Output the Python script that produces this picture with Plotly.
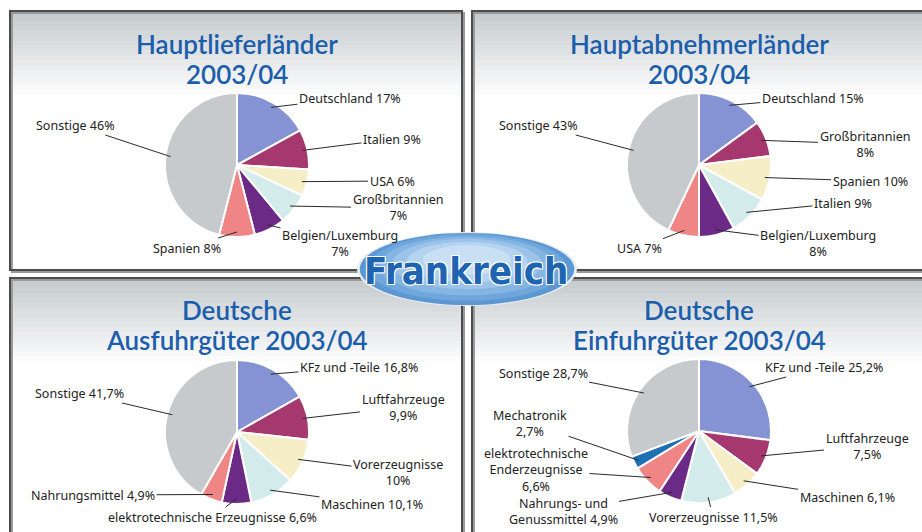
import math
import plotly.graph_objects as go

W, H = 922, 532

# ---------------- data ----------------
tl_labels = ["Deutschland", "Italien", "USA", "Großbritannien", "Belgien/Luxemburg", "Spanien", "Sonstige"]
tl_values = [17, 9, 6, 7, 7, 8, 46]

tr_labels = ["Deutschland", "Großbritannien", "Spanien", "Italien", "Belgien/Luxemburg", "USA", "Sonstige"]
tr_values = [15, 8, 10, 9, 8, 7, 43]

bl_labels = ["KFz und -Teile", "Luftfahrzeuge", "Vorerzeugnisse", "Maschinen",
             "elektrotechnische Erzeugnisse", "Nahrungsmittel", "Sonstige"]
bl_values = [16.8, 9.9, 10.0, 10.1, 6.6, 4.9, 41.7]

br_labels = ["KFz und -Teile", "Luftfahrzeuge", "Maschinen", "Vorerzeugnisse",
             "Nahrungs- und Genussmittel", "elektrotechnische Enderzeugnisse", "Mechatronik", "Sonstige"]
br_values = [25.2, 7.5, 6.1, 11.5, 4.9, 6.6, 2.7, 28.7]

titles = ["Hauptlieferländer<br>2003/04", "Hauptabnehmerländer<br>2003/04",
          "Deutsche<br>Ausfuhrgüter 2003/04", "Deutsche<br>Einfuhrgüter 2003/04"]
logo_text = "Frankreich"

# ---------------- styles / layout ----------------
C_BLUE, C_MAG, C_CREAM, C_CYAN = "#8592d3", "#a5386f", "#f6eec6", "#d4ebeb"
C_PURP, C_PINK, C_GRAY, C_DBLUE = "#6c2a87", "#ef8585", "#c6cacd", "#1f6fb5"
colors7 = [C_BLUE, C_MAG, C_CREAM, C_CYAN, C_PURP, C_PINK, C_GRAY]
colors8 = [C_BLUE, C_MAG, C_CREAM, C_CYAN, C_PURP, C_PINK, C_DBLUE, C_GRAY]
TITLE_BLUE = "#1b5eab"
LABEL_FONT = dict(family="Noto Sans", size=12.5, color="#222222")

R = 72
panels = [
    dict(labels=tl_labels, values=tl_values, colors=colors7, center=(237, 165),
         box=(10, 11, 462, 270), title_y=(44, 74),
         breaks={"Großbritannien": "<br>", "Belgien/Luxemburg": "<br>"},
         pos=[(350, 98), (392, 139), (392, 181), (398, 208), (340, 243), (187, 248), (75, 125)]),
    dict(labels=tr_labels, values=tr_values, colors=colors7, center=(699, 165),
         box=(472, 11, 935, 270), title_y=(44, 74),
         breaks={"Großbritannien": "<br>", "Belgien/Luxemburg": "<br>"},
         pos=[(813, 98), (865, 144), (870, 181), (843, 203), (818, 243), (639, 248), (538, 125)]),
    dict(labels=bl_labels, values=bl_values, colors=colors7, center=(237, 432),
         box=(10, 278, 462, 545), title_y=(310, 340),
         breaks={"Luftfahrzeuge": "<br>", "Vorerzeugnisse": "<br>"},
         pos=[(359, 367), (403, 407), (398, 472), (372, 504), (212, 517), (93, 495), (79, 393)]),
    dict(labels=br_labels, values=br_values, colors=colors8, center=(699, 431),
         box=(472, 278, 935, 545), title_y=(310, 340),
         breaks={"Luftfahrzeuge": "<br>", "Mechatronik": "<br>"},
         pos=[(824, 367), (867, 446), (847, 497), (713, 517), (563, 511), (536, 470), (530, 423), (543, 373)]),
]
wrap_names = {"Nahrungs- und Genussmittel": "Nahrungs- und<br>Genussmittel",
              "elektrotechnische Enderzeugnisse": "elektrotechnische<br>Enderzeugnisse<br>"}


def fmt(v):
    return f"{v:g}".replace(".", ",") + "%"


def px(x, y):
    return x / W, 1 - y / H


fig = go.Figure()
shapes = []
annotations = []

# panel backgrounds (vertical gradient faked with strips)
N = 18
for p in panels:
    x0, y0, x1, y1 = p["box"]
    gh = 88
    for i in range(N):
        t = i / (N - 1)
        r_ = int(197 + (255 - 197) * t)
        g_ = int(203 + (255 - 203) * t)
        b_ = int(206 + (255 - 206) * t)
        sy0 = y0 + gh * i / N
        sy1 = y0 + gh * (i + 1) / N + 0.6
        shapes.append(dict(type="rect", xref="paper", yref="paper",
                           x0=x0 / W, x1=x1 / W, y0=1 - sy1 / H, y1=1 - sy0 / H,
                           fillcolor=f"rgb({r_},{g_},{b_})", line=dict(width=0), layer="below"))
    # shadow + border
    shapes.append(dict(type="rect", xref="paper", yref="paper",
                       x0=(x0 + 2) / W, x1=(x1 + 2) / W, y0=1 - (y1 + 2) / H, y1=1 - (y0 + 2) / H,
                       line=dict(color="#9a9a9a", width=2), layer="below"))
    shapes.append(dict(type="rect", xref="paper", yref="paper",
                       x0=x0 / W, x1=x1 / W, y0=1 - y1 / H, y1=1 - y0 / H,
                       line=dict(color="#4c4c4c", width=2), layer="below"))

for k, p in enumerate(panels):
    cx, cy = p["center"]
    fig.add_trace(go.Pie(
        labels=p["labels"], values=p["values"], sort=False, direction="clockwise", rotation=0,
        marker=dict(colors=p["colors"], line=dict(color="white", width=2)),
        textinfo="none", hoverinfo="label+value", showlegend=False,
        domain=dict(x=[(cx - R) / W, (cx + R) / W], y=[1 - (cy + R) / H, 1 - (cy - R) / H]),
    ))
    # title (two lines placed individually)
    for line_text, ly_ in zip(titles[k].split("<br>"), p["title_y"]):
        tx, ty = px(cx, ly_)
        annotations.append(dict(x=tx, y=ty, xref="paper", yref="paper", text=line_text,
                                showarrow=False, xanchor="center", yanchor="middle", borderpad=0,
                                font=dict(family="Lato", size=26, color=TITLE_BLUE, weight=600)))
    # labels with leader lines
    total = sum(p["values"])
    cum = 0
    for name, v, (lx, ly) in zip(p["labels"], p["values"], p["pos"]):
        mid = (cum + v / 2) / total * 2 * math.pi
        cum += v
        tipx = cx + 0.93 * R * math.sin(mid)
        tipy = cy - 0.93 * R * math.cos(mid)
        disp = wrap_names.get(name, name)
        sep = p["breaks"].get(name, "" if disp.endswith("<br>") else " ")
        text = disp + sep + fmt(v)
        ax_, ay_ = px(tipx, tipy)
        annotations.append(dict(x=ax_, y=ay_, xref="paper", yref="paper", text=text,
                                showarrow=True, arrowhead=0, arrowwidth=1, arrowcolor="#2a2a2a",
                                ax=lx - tipx, ay=ly - tipy, font=LABEL_FONT, align="center"))

# central logo ellipse (gradient faked with nested ellipses)
lcx, lcy, lrx, lry = 467, 269, 110, 37
steps = [(1.00, 0.0, "#e6edf3"), (0.975, 0.0, "#5b98d3"), (0.90, -1.5, "#6fa7dc"),
         (0.80, -3, "#84b5e3"), (0.68, -5, "#9cc4ea"), (0.55, -7, "#b4d3ef"),
         (0.40, -9, "#c9e0f4")]
for s, dy, col in steps:
    shapes.append(dict(type="circle", xref="paper", yref="paper",
                       x0=(lcx - lrx * s) / W, x1=(lcx + lrx * s) / W,
                       y0=1 - (lcy + dy + lry * s) / H, y1=1 - (lcy + dy - lry * s) / H,
                       fillcolor=col, line=dict(width=0), layer="above"))
lx, ly = px(lcx - 1, lcy + 2)
annotations.append(dict(x=lx, y=ly, xref="paper", yref="paper", text=logo_text, showarrow=False,
                        font=dict(family="DejaVu Sans Condensed", size=38, color="#1e64b0", weight="bold",
                                  shadow="1px 1px 0 #fff, -1px -1px 0 #fff, 1px -1px 0 #fff, -1px 1px 0 #fff"),
                        xanchor="center", yanchor="middle"))

fig.update_layout(width=W, height=H, margin=dict(l=0, r=0, t=0, b=0),
                  paper_bgcolor="white", plot_bgcolor="white",
                  shapes=shapes, annotations=annotations, showlegend=False)
fig.write_html("out.html", config={"displayModeBar": False},
               post_script="document.body.style.margin='0';document.body.style.overflow='hidden';")
